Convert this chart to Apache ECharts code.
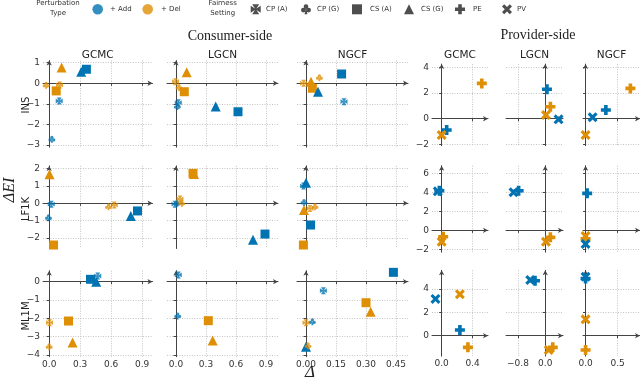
<!DOCTYPE html>
<html><head><meta charset="utf-8">
<script src="https://cdn.jsdelivr.net/npm/echarts@6/dist/echarts.min.js"></script>
<style>html,body{margin:0;padding:0;background:#fff}#c{width:640px;height:380px}</style>
</head><body><div id="c"></div>
<script>
// ---------- DATA ----------
const datasets = ['INS', 'LF1K', 'ML1M'];
const models = ['GCMC', 'LGCN', 'NGCF'];
const perturbations = ['Add', 'Del'];
const settings = ['CP (A)', 'CP (G)', 'CS (A)', 'CS (G)', 'PE', 'PV'];

const consumerXTicks = [[0, 0.3, 0.6, 0.9], [0, 0.3, 0.6, 0.9], [0, 0.15, 0.3, 0.45]];
const providerXTicks = [[0, 0.4], [-0.8, 0], [0, 0.5]];
const consumerYTicks = [[-3, -2, -1, 0, 1], [-2, -1, 0, 1, 2], [-4, -3, -2, -1, 0]];
const providerYTicks = [[-2, 0, 2, 4], [-2, 0, 2, 4, 6], [0, 2, 4]];

// [delta, deltaEI, perturbation, setting]
const cons_INS_GCMC = [
  [0.12, 0.76, 'Del', 'CS (G)'], [0.31, 0.56, 'Add', 'CS (G)'], [0.36, 0.68, 'Add', 'CS (A)'],
  [0.068, -0.37, 'Del', 'CS (A)'], [0.10, -0.08, 'Del', 'CP (A)'], [-0.03, -0.1, 'Del', 'CP (G)'],
  [0.097, -0.86, 'Add', 'CP (A)'], [0.026, -2.72, 'Add', 'CP (G)']
];
const cons_INS_LGCN = [
  [0.107, 0.53, 'Del', 'CS (G)'], [-0.005, 0.08, 'Del', 'CP (A)'], [0.03, -0.2, 'Del', 'CP (G)'],
  [0.083, -0.41, 'Del', 'CS (A)'], [0.023, -0.94, 'Add', 'CP (A)'], [0.013, -1.13, 'Add', 'CP (G)'],
  [0.397, -1.13, 'Add', 'CS (G)'], [0.62, -1.38, 'Add', 'CS (A)']
];
const cons_INS_NGCF = [
  [0.178, 0.45, 'Add', 'CS (A)'], [0.025, 0.08, 'Del', 'CS (G)'], [-0.012, 0.0, 'Del', 'CP (A)'],
  [0.067, 0.27, 'Del', 'CP (G)'], [0.032, -0.24, 'Del', 'CS (A)'], [0.06, -0.41, 'Add', 'CS (G)'],
  [0.19, -0.89, 'Add', 'CP (A)']
];
const cons_LF1K_GCMC = [
  [0.003, 1.67, 'Del', 'CS (G)'], [0.02, -0.05, 'Add', 'CP (A)'], [-0.007, -0.83, 'Add', 'CP (G)'],
  [0.042, -2.4, 'Del', 'CS (A)'], [0.63, -0.1, 'Del', 'CP (A)'], [0.574, -0.2, 'Del', 'CP (G)'],
  [0.79, -0.73, 'Add', 'CS (G)'], [0.855, -0.44, 'Add', 'CS (A)']
];
const cons_LF1K_LGCN = [
  [0.17, 1.72, 'Del', 'CS (A)'], [0.18, 1.68, 'Del', 'CS (G)'], [-0.01, -0.05, 'Add', 'CP (A)'],
  [0.01, 0.0, 'Add', 'CP (G)'], [0.057, 0.0, 'Del', 'CP (G)'], [0.04, 0.25, 'Del', 'CP (A)'],
  [0.77, -2.1, 'Add', 'CS (G)'], [0.89, -1.77, 'Add', 'CS (A)']
];
const cons_LF1K_NGCF = [
  [0.0, 1.18, 'Add', 'CS (G)'], [-0.012, 1.0, 'Add', 'CP (A)'], [-0.01, 0.05, 'Add', 'CP (G)'],
  [-0.01, -0.38, 'Del', 'CS (G)'], [0.045, -0.2, 'Del', 'CP (G)'], [0.02, -0.3, 'Del', 'CP (A)'],
  [0.023, -1.25, 'Add', 'CS (A)'], [-0.013, -2.4, 'Del', 'CS (A)']
];
const cons_ML1M_GCMC = [
  [0.40, 0.13, 'Add', 'CS (A)'], [0.455, 0.0, 'Add', 'CS (G)'], [0.47, 0.31, 'Add', 'CP (A)'],
  [0.187, -2.15, 'Del', 'CS (A)'], [0.003, -2.24, 'Del', 'CP (A)'], [0.226, -3.33, 'Del', 'CS (G)'],
  [0.0, -3.55, 'Del', 'CP (G)']
];
const cons_ML1M_LGCN = [
  [0.023, 0.37, 'Add', 'CP (A)'], [0.017, -1.87, 'Add', 'CP (G)'],
  [0.323, -2.13, 'Del', 'CS (A)'], [0.367, -3.22, 'Del', 'CS (G)']
];
const cons_ML1M_NGCF = [
  [0.437, 0.51, 'Add', 'CS (A)'], [0.087, -0.49, 'Add', 'CP (A)'], [0.30, -1.15, 'Del', 'CS (A)'],
  [0.323, -1.64, 'Del', 'CS (G)'], [0.0, -2.24, 'Del', 'CP (A)'], [0.032, -2.19, 'Add', 'CP (G)'],
  [0.0, -3.55, 'Add', 'CS (G)'], [0.01, -3.5, 'Del', 'CP (G)']
];
const prov_INS_GCMC = [
  [0.52, 2.75, 'Del', 'PE'], [0.065, -0.88, 'Add', 'PE'], [0.0, -1.27, 'Del', 'PV']
];
const prov_INS_LGCN = [
  [0.05, 2.29, 'Add', 'PE'], [0.15, 0.93, 'Del', 'PE'], [0.02, 0.29, 'Del', 'PV'], [0.39, -0.05, 'Add', 'PV']
];
const prov_INS_NGCF = [
  [0.70, 2.36, 'Del', 'PE'], [0.317, 0.68, 'Add', 'PE'], [0.11, 0.11, 'Add', 'PV'], [0.0, -1.27, 'Del', 'PV']
];
const prov_LF1K_GCMC = [
  [-0.05, 4.1, 'Add', 'PV'], [-0.03, 4.17, 'Add', 'PE'], [0.02, -0.67, 'Del', 'PE'], [0.0, -1.2, 'Del', 'PV']
];
const prov_LF1K_LGCN = [
  [-0.93, 4.0, 'Add', 'PV'], [-0.78, 4.17, 'Add', 'PE'], [0.15, -0.74, 'Del', 'PE'], [0.02, -1.2, 'Del', 'PV']
];
const prov_LF1K_NGCF = [
  [0.025, 3.89, 'Add', 'PE'], [0.0, -0.6, 'Del', 'PV'], [0.0, -0.9, 'Del', 'PE'], [0.0, -1.44, 'Add', 'PV']
];
const prov_ML1M_GCMC = [
  [-0.08, 3.15, 'Add', 'PV'], [0.236, 3.55, 'Del', 'PV'], [0.236, 0.49, 'Add', 'PE'], [0.34, -1.0, 'Del', 'PE']
];
const prov_ML1M_LGCN = [
  [-0.44, 4.77, 'Add', 'PV'], [-0.3, 4.7, 'Add', 'PE'], [0.1, -1.23, 'Del', 'PV'], [0.22, -1.0, 'Del', 'PE']
];
const prov_ML1M_NGCF = [
  [0.0, 4.9, 'Add', 'PE'], [0.0, 5.05, 'Add', 'PV'], [0.0, 1.4, 'Del', 'PV'], [0.0, -1.23, 'Del', 'PE']
];

const panels = [
  [cons_INS_GCMC, cons_INS_LGCN, cons_INS_NGCF, prov_INS_GCMC, prov_INS_LGCN, prov_INS_NGCF],
  [cons_LF1K_GCMC, cons_LF1K_LGCN, cons_LF1K_NGCF, prov_LF1K_GCMC, prov_LF1K_LGCN, prov_LF1K_NGCF],
  [cons_ML1M_GCMC, cons_ML1M_LGCN, cons_ML1M_NGCF, prov_ML1M_GCMC, prov_ML1M_LGCN, prov_ML1M_NGCF]
];

// ---------- LAYOUT / STYLE ----------
const colBox = [[43, 109.5], [167, 111], [297, 111], [432, 56], [506, 57], [583, 57]];
const xRange = [[-0.06, 1.0], [-0.09, 1.02], [-0.045, 0.51], [-0.125, 0.6], [-1.15, 0.52], [-0.04, 0.85]];
const rowBoxC = [[60.6, 86.6], [165.9, 82.6], [270.7, 86]];
const yRangeC = [[-3.1, 1.1], [-2.6, 2.15], [-4.1, 0.6]];
const rowBoxP = [[64.1, 81.6], [165.7, 86.5], [270.3, 85.8]];
const yRangeP = [[-2.1, 4.25], [-2.3, 6.8], [-1.75, 5.6]];

const colors = { Add: '#0173b2', Del: '#de8f05' };
const SYM = {
  'CP (A)': 'path://M1.5,0L8.5,0L5.7,4.3L10,1.5L10,8.5L5.7,5.7L8.5,10L1.5,10L4.3,5.7L0,8.5L0,1.5L4.3,4.3Z',
  'CP (G)': 'path://M2.7,2.4A2.3,2.3,0,1,0,7.3,2.4A2.3,2.3,0,1,0,2.7,2.4ZM0.1,5.8A2.3,2.3,0,1,0,4.7,5.8A2.3,2.3,0,1,0,0.1,5.8ZM5.3,5.8A2.3,2.3,0,1,0,9.9,5.8A2.3,2.3,0,1,0,5.3,5.8ZM5,4L6.5,10L3.5,10Z',
  'CS (A)': 'rect',
  'CS (G)': 'triangle',
  'PE': 'path://M3.2,0L6.8,0L6.8,3.2L10,3.2L10,6.8L6.8,6.8L6.8,10L3.2,10L3.2,6.8L0,6.8L0,3.2L3.2,3.2Z',
  'PV': 'path://M2.2,0L5,2.8L7.8,0L10,2.2L7.2,5L10,7.8L7.8,10L5,7.2L2.2,10L0,7.8L2.8,5L0,2.2Z'
};
const SIZE = { 'CP (A)': 7, 'CP (G)': 7, 'CS (A)': 9, 'CS (G)': 10, 'PE': 10, 'PV': 10 };

const FONT = 'DejaVu Sans';
const fmtNum = (v, d) => { const s = Math.abs(v).toFixed(d); return (v < 0 ? '\u2212' : '') + s; };

const grid = [], xAxis = [], yAxis = [], series = [];
for (let r = 0; r < 3; r++) {
  for (let c = 0; c < 6; c++) {
    const i = r * 6 + c;
    const isCons = c < 3;
    const rb = isCons ? rowBoxC[r] : rowBoxP[r];
    const yr = isCons ? yRangeC[r] : yRangeP[r];
    const xt = isCons ? consumerXTicks[c] : providerXTicks[c - 3];
    const yt = isCons ? consumerYTicks[r] : providerYTicks[r];
    const dec = (c === 2) ? 2 : 1;
    grid.push({ left: colBox[c][0], width: colBox[c][1], top: rb[0], height: rb[1], containLabel: false });
    const axLine = { show: true, onZero: true, symbol: ['none', 'arrow'], symbolSize: [4, 5],
      lineStyle: { color: '#444', width: 1 } };
    const split = { show: true, lineStyle: { type: [1, 1.5], color: '#bdbdbd', width: 0.9 } };
    xAxis.push({
      type: 'value', gridIndex: i, min: xRange[c][0], max: xRange[c][1],
      axisLine: axLine,
      axisTick: { show: true, length: 2.5, customValues: xt, lineStyle: { color: '#444' } },
      axisLabel: { show: r === 2, customValues: xt, fontSize: 9, fontFamily: FONT, color: '#333', margin: 3,
        formatter: v => fmtNum(v, dec) },
      splitLine: split
    });
    yAxis.push({
      type: 'value', gridIndex: i, min: yr[0], max: yr[1],
      axisLine: axLine,
      axisTick: { show: true, length: 2.5, customValues: yt, lineStyle: { color: '#444' } },
      axisLabel: { show: (c === 0 || c === 3), customValues: yt, fontSize: 9, fontFamily: FONT, color: '#333', margin: 3,
        formatter: v => fmtNum(v, 0) },
      splitLine: split
    });
    series.push({
      type: 'scatter', xAxisIndex: i, yAxisIndex: i, clip: false, z: 5,
      data: panels[r][c].map(p => ({
        value: [p[0], p[1]],
        symbol: SYM[p[3]], symbolSize: SIZE[p[3]],
        itemStyle: { color: colors[p[2]], opacity: p[3].startsWith('CP') ? 0.8 : 1 }
      }))
    });
  }
}

// ---------- LEGEND (pixel-space overlay grid) ----------
const legendKeys = [
  ['Add', 'circle'], ['Del', 'circle'],
  ['CP (A)'], ['CP (G)'], ['CS (A)'], ['CS (G)'], ['PE'], ['PV']
];
const legendPos = [[97.7, 9.3], [147.7, 9.3], [255.7, 9.3], [306, 9.3], [357, 9.3], [409, 9.3], [460, 9.3], [507, 9.3]];
const legendTextX = [110, 161, 266, 317, 370, 421, 473, 517];
const LG = 18;
grid.push({ left: 0, top: 0, width: 640, height: 380, show: false });
xAxis.push({ type: 'value', gridIndex: LG, min: 0, max: 640, show: false });
yAxis.push({ type: 'value', gridIndex: LG, min: 0, max: 380, inverse: true, show: false });
series.push({
  type: 'scatter', xAxisIndex: LG, yAxisIndex: LG, clip: false, silent: true,
  data: legendKeys.map((k, j) => ({
    value: legendPos[j],
    symbol: k[1] ? 'circle' : SYM[k[0]],
    symbolSize: k[1] ? 10.6 : 10,
    itemStyle: { color: k[1] ? colors[k[0]] : '#222' }
  }))
});

// ---------- TEXT ----------
const graphic = [];
const txt = (x, y, t, o = {}) => graphic.push({ type: 'text', x, y, rotation: o.rot || 0, z: 10,
  style: { text: t, fontSize: o.size || 10, fontFamily: o.font || FONT, fontStyle: o.style || 'normal',
    fill: o.fill || '#222', align: o.align || 'center', verticalAlign: 'middle' } });

models.forEach((m, k) => {
  txt(colBox[k][0] + colBox[k][1] / 2, 55.5, m, { size: 10.5 });
  txt(colBox[k + 3][0] + colBox[k + 3][1] / 2, 55.5, m, { size: 10.5 });
});
txt(230, 36.5, 'Consumer-side', { size: 14, font: 'Liberation Serif' });
txt(538, 35.5, 'Provider-side', { size: 14, font: 'Liberation Serif' });
const rowLabelY = [105, 209, 316];
datasets.forEach((d, k) => txt(26, rowLabelY[k], d, { size: 10, rot: Math.PI / 2 }));
txt(10, 190, '\u0394EI', { size: 16, font: 'Liberation Serif', style: 'italic', rot: Math.PI / 2 });
txt(310, 373, '\u0394', { size: 17, font: 'Liberation Serif', style: 'italic' });

const LF = 7;
txt(58, 3.5, 'Perturbation', { size: LF, fill: '#333' });
txt(58, 13.5, 'Type', { size: LF, fill: '#333' });
txt(222.7, 3.5, 'Fairness', { size: LF, fill: '#333' });
txt(222.7, 13.5, 'Setting', { size: LF, fill: '#333' });
const legendLabels = ['+ Add', '+ Del', 'CP (A)', 'CP (G)', 'CS (A)', 'CS (G)', 'PE', 'PV'];
legendLabels.forEach((t, j) => txt(legendTextX[j], 9.3, t, { size: LF, align: 'left', fill: '#333' }));

const chart = echarts.init(document.getElementById('c'), null, { renderer: 'canvas' });
chart.setOption({ animation: false, backgroundColor: '#fff', grid, xAxis, yAxis, series, graphic });
</script></body></html>
